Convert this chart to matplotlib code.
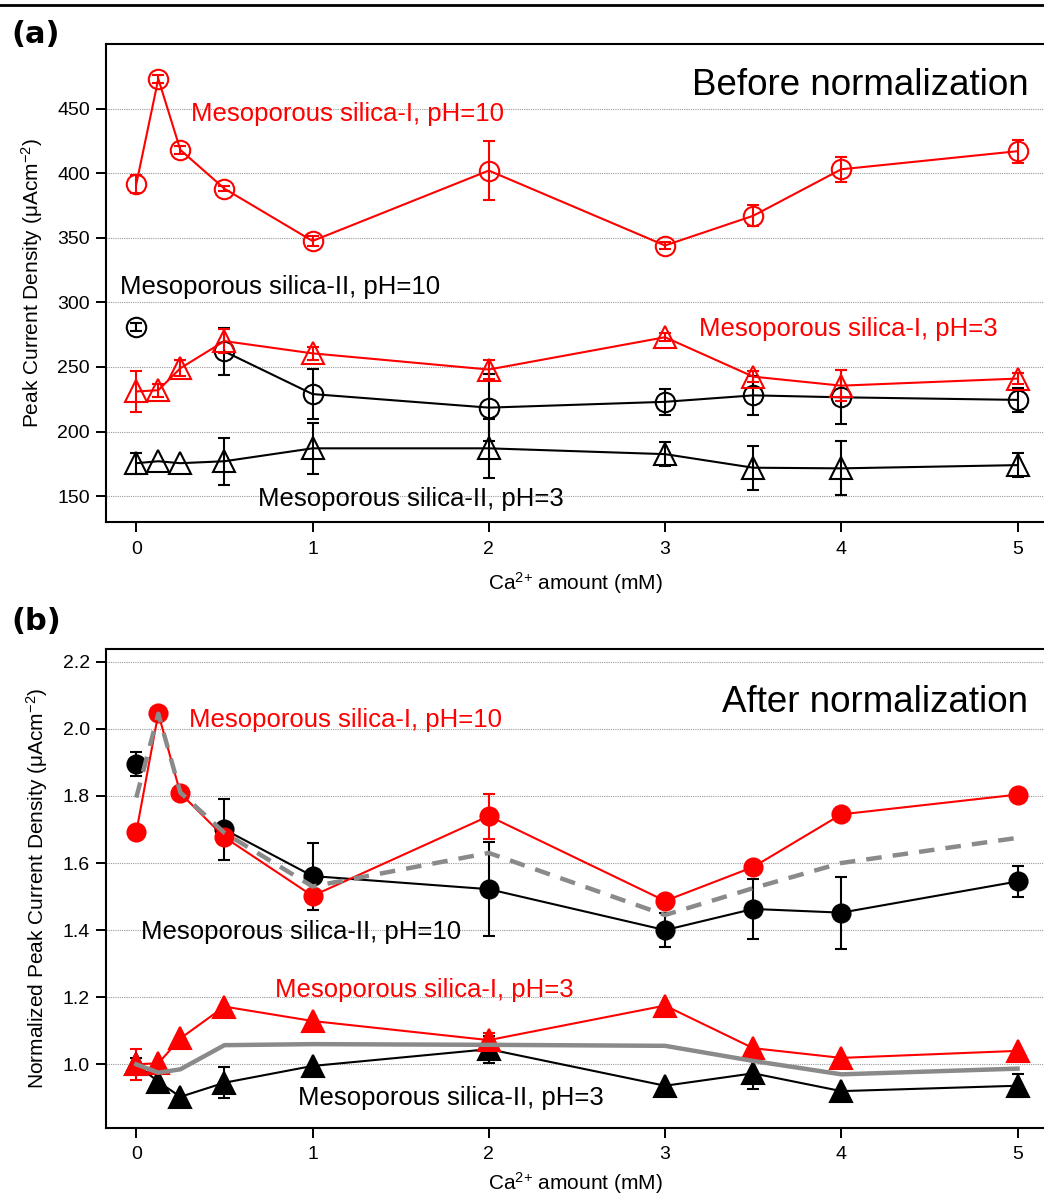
import numpy as np
import matplotlib
matplotlib.use('Agg')
import matplotlib.pyplot as plt
from matplotlib.lines import Line2D

plt.rcParams['font.family'] = ['Liberation Sans', 'DejaVu Sans']
plt.rcParams['mathtext.fontset'] = 'custom'
plt.rcParams['mathtext.rm'] = 'Liberation Sans'
plt.rcParams['mathtext.it'] = 'Liberation Sans:italic'

nan = np.nan

# Ca2+ amount (mM)
ca_amount = [0, 0.125, 0.25, 0.5, 1, 2, 3, 3.5, 4, 5]

# (a) before normalization, peak current density
si1_ph10 = [391.5, 473, 418, 388, 347.5, 402, 344, 367, 403, 417]
si1_ph10_err = [7, 3, 3, 2, 4, 23, 3, 8, 9.5, 9]
si2_ph10 = [281, nan, nan, 262, 229, 218.5, 223, 228, 226.5, 224.5]
si2_ph10_err = [3, nan, nan, 18, 19.5, 26, 10, 15, 21, 9]
si1_ph3 = [231, 232, 249, 270, 260.5, 248, 273, 242.5, 235.5, 241]
si1_ph3_err = [16, 5, 6, 9, 5, 7, 3, 4, 12, 4]
si2_ph3 = [175.5, 177, 175.5, 177, 187, 187, 182.5, 172, 171.5, 174]
si2_ph3_err = [8, nan, nan, 18, 19.5, 23, 9.5, 17, 21, 9.5]

# (b) after normalization
n_si1_ph10 = [1.692, 2.046, 1.808, 1.677, 1.502, 1.74, 1.487, 1.588, 1.745, 1.804]
n_si1_ph10_err = [nan, nan, nan, nan, nan, 0.067, nan, nan, 0.02, nan]
n_si2_ph10 = [1.895, nan, nan, 1.70, 1.561, 1.522, 1.40, 1.463, 1.452, 1.545]
n_si2_ph10_err = [0.035, nan, nan, 0.09, 0.1, 0.14, 0.05, 0.09, 0.107, 0.047]
n_ph10_mean = [1.795, 2.045, 1.81, 1.69, 1.53, 1.63, 1.445, 1.525, 1.6, 1.675]
n_si1_ph3 = [1.0, 1.003, 1.077, 1.172, 1.129, 1.072, 1.175, 1.048, 1.019, 1.04]
n_si1_ph3_err = [0.047, nan, nan, nan, nan, 0.02, nan, nan, nan, nan]
n_si2_ph3 = [1.0, 0.948, 0.903, 0.945, 0.995, 1.045, 0.936, 0.973, 0.92, 0.936]
n_si2_ph3_err = [0.02, nan, nan, 0.047, nan, 0.04, nan, 0.048, nan, 0.035]
n_ph3_mean = [1.0, 0.975, 0.985, 1.057, 1.06, 1.058, 1.055, 1.01, 0.97, 0.987]

RED = '#ff0000'
BLACK = '#000000'
GRAY = '#8a8a8a'


def draw_series(ax, y, err, color, marker, filled, ms):
    ax.errorbar(ca_amount, y, yerr=err, color=color, marker=marker, ms=ms,
                mfc=color if filled else 'none', mec=color, mew=1.5, lw=1.5,
                capsize=4.5, capthick=1.5, elinewidth=1.5)


def style_axes(ax, yticks, fmt, xpad):
    ax.set_xlim(-0.172, 5.15)
    ax.set_xticks([0, 1, 2, 3, 4, 5])
    ax.set_yticks(yticks)
    ax.set_yticklabels([fmt % v for v in yticks])
    ax.grid(axis='y', color='#9a9a9a', linestyle=(0, (1, 1)), lw=0.8)
    ax.set_axisbelow(True)
    ax.spines['right'].set_visible(False)
    for s in ['left', 'bottom', 'top']:
        ax.spines[s].set_linewidth(1.5)
    ax.tick_params(direction='out', length=7.5, width=1.4, labelsize=14, pad=6)
    ax.tick_params(axis='y', pad=4)
    ax.set_xlabel('Ca$^{2{+}}$ amount (mM)', fontsize=15, labelpad=xpad)


fig = plt.figure(figsize=(10.44, 11.98), dpi=100)

# panel (a)
ax1 = fig.add_axes([0.1015, 0.5643, 0.8985, 0.399])
draw_series(ax1, si2_ph3, si2_ph3_err, BLACK, '^', False, 16)
draw_series(ax1, si2_ph10, si2_ph10_err, BLACK, 'o', False, 14)
draw_series(ax1, si1_ph3, si1_ph3_err, RED, '^', False, 16)
draw_series(ax1, si1_ph10, si1_ph10_err, RED, 'o', False, 14)
ax1.set_ylim(130, 500)
style_axes(ax1, [150, 200, 250, 300, 350, 400, 450], '%d', 9)
ax1.set_ylabel('Peak Current Density (μAcm$^{-2}$)', fontsize=15, labelpad=9)

ax1.text(5.06, 468, 'Before normalization', fontsize=26.5, ha='right', va='center')
ax1.text(0.313, 446, 'Mesoporous silica-I, pH=10', color=RED, fontsize=18.5, va='center')
ax1.text(-0.094, 312, 'Mesoporous silica-II, pH=10', color=BLACK, fontsize=18.5, va='center')
ax1.text(3.19, 279.5, 'Mesoporous silica-I, pH=3', color=RED, fontsize=18.5, va='center')
ax1.text(0.688, 148, 'Mesoporous silica-II, pH=3', color=BLACK, fontsize=18.5, va='center')

# panel (b)
ax2 = fig.add_axes([0.1015, 0.0587, 0.8985, 0.3993])
draw_series(ax2, n_si2_ph3, n_si2_ph3_err, BLACK, '^', True, 16)
draw_series(ax2, n_si1_ph3, n_si1_ph3_err, RED, '^', True, 16)
draw_series(ax2, n_si2_ph10, n_si2_ph10_err, BLACK, 'o', True, 13)
draw_series(ax2, n_si1_ph10, n_si1_ph10_err, RED, 'o', True, 13)
ax2.plot(ca_amount, n_ph10_mean, color=GRAY, lw=3.2, linestyle=(0, (3.5, 2.5)), zorder=5)
ax2.plot(ca_amount, n_ph3_mean, color=GRAY, lw=3.2, zorder=5)
ax2.set_ylim(0.811, 2.237)
style_axes(ax2, [1.0, 1.2, 1.4, 1.6, 1.8, 2.0, 2.2], '%.1f', 5)
ax2.set_ylabel('Normalized Peak Current Density (μAcm$^{-2}$)', fontsize=15, labelpad=9)

ax2.text(5.06, 2.077, 'After normalization', fontsize=26.5, ha='right', va='center')
ax2.text(0.30, 2.026, 'Mesoporous silica-I, pH=10', color=RED, fontsize=18.5, va='center')
ax2.text(0.028, 1.394, 'Mesoporous silica-II, pH=10', color=BLACK, fontsize=18.5, va='center')
ax2.text(0.787, 1.221, 'Mesoporous silica-I, pH=3', color=RED, fontsize=18.5, va='center')
ax2.text(0.92, 0.899, 'Mesoporous silica-II, pH=3', color=BLACK, fontsize=18.5, va='center')

# panel letters and top rule
fig.text(0.011, 0.971, '(a)', fontsize=22, fontweight='bold', family='DejaVu Sans', va='center')
fig.text(0.011, 0.481, '(b)', fontsize=22, fontweight='bold', family='DejaVu Sans', va='center')
fig.add_artist(Line2D([0, 1], [0.9962, 0.9962], color='black', lw=2, transform=fig.transFigure))

fig.savefig('out.png', dpi=100)
